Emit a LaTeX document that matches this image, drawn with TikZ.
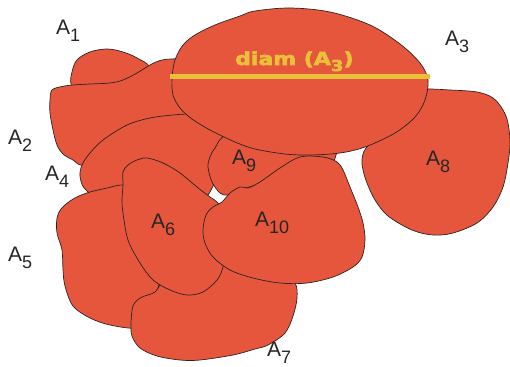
\documentclass[tikz,border=0pt]{standalone}
\usepackage{fontspec}
\setmainfont{Liberation Sans}
\newfontfamily\diamfont[BoldFeatures={FakeBold=3}]{DejaVu Sans}
\usepackage{graphicx}
\definecolor{blob}{RGB}{229,86,61}
\definecolor{diamy}{RGB}{234,192,58}
\definecolor{edgec}{RGB}{45,35,35}
\newcommand{\alab}[1]{\fontsize{21}{21}\selectfont A\raisebox{-7pt}{\fontsize{18}{18}\selectfont #1}}
\begin{document}
\begin{tikzpicture}[x=1pt,y=-1pt,
  blobst/.style={fill=blob,draw=edgec,line width=0.7pt},
  lab/.style={anchor=base west,inner sep=0pt,text=black!85}]
\useasboundingbox (0,0) rectangle (510,366);
% A1
\path[blobst] plot[smooth cycle,tension=0.6] coordinates {(71,84) (72,72) (77,60) (90,52) (107,49) (123,52) (137,58) (150,68) (148,90) (110,98) (78,96)};
% A2
\path[blobst] plot[smooth cycle,tension=0.55] coordinates {(52,90) (62,86.5) (73,85) (90,84) (110,83) (123,80) (137,73) (150,65) (160,60.5) (172,59) (195,60) (215,90) (200,112) (160,125) (110,150) (84,165) (73,160) (63,154) (57,145) (53,130) (50,113) (50,100)};
% A4
\path[blobst] plot[smooth cycle,tension=0.55] coordinates {(90,153) (103,140) (127,125) (150,118) (173,115) (190,114) (215,115) (232,130) (228,150) (218,175) (212,188) (205,198) (180,215) (130,205) (95,195) (84,188) (80,176) (82,165)};
% A5
\path[blobst] plot[smooth cycle,tension=0.55] coordinates {(90,192) (107,188) (123,185) (140,190) (160,260) (155,300) (145,318) (136,328) (110,325) (90,318) (73,306) (65,286) (63,270) (62,250) (57,233) (57,218) (61,209) (70,201) (79,196)};
% A9
\path[blobst] plot[smooth cycle,tension=0.55] coordinates {(228,135) (215,148) (210,157) (208,167) (212,182) (220,193) (228,195) (240,190) (270,180) (300,165) (330,162) (336,155) (335,140) (280,135)};
% A8
\path[blobst] plot[smooth cycle,tension=0.55] coordinates {(400,92) (423,89) (450,90) (477,92) (493,98) (503,110) (508,123) (510,143) (508,163) (503,187) (493,207) (477,223) (453,233) (433,235) (412,230) (388,216) (375,200) (367,183) (363,170) (362,160) (366,148) (385,128)};
% A3
\path[blobst] plot[smooth cycle,tension=0.55] coordinates {(172,78) (173,95) (180,108) (192,119) (210,130) (235,142) (255,149) (285,154) (310,155) (340,153) (365,147) (395,133) (415,117) (425,100) (428,80) (420,63) (400,44) (370,25) (330,12) (290,8) (255,11) (240,16) (215,25) (195,35) (183,45) (175,60)};
% A7
\path[blobst] plot[smooth cycle,tension=0.55] coordinates {(170,270) (220,258) (280,270) (295,283) (297,298) (293,316) (285,333) (268,345) (255,349) (233,355) (200,360) (180,360) (157,356) (140,348) (132,336) (131,323) (133,306) (140,298) (148,295) (155,292) (160,285)};
% A6
\path[blobst] plot[smooth cycle,tension=0.55] coordinates {(123,185) (123,172) (128,165) (137,160) (147,158) (163,163) (180,173) (197,187) (210,197) (218,203) (223,215) (225,250) (223,267) (217,280) (203,292) (187,295) (170,290) (153,280) (140,263) (128,240) (123,213) (122,200)};
% A10
\path[blobst] plot[smooth cycle,tension=0.55] coordinates {(230,193) (240,187) (247,188) (253,186) (263,180) (280,168) (300,157) (323,157) (337,162) (343,170) (350,187) (358,207) (363,223) (365,240) (362,257) (353,267) (333,277) (307,283) (280,283) (253,278) (230,270) (213,257) (205,243) (203,230) (206,215) (213,207) (222,202)};
% diameter
\coordinate (d1) at (170,76.5);
\coordinate (d2) at (430,76.5);
\draw[diamy,line width=4.5pt] (d1) -- (d2);
\node[anchor=base west,inner sep=0pt,text=diamy] (dtext) at (235,65) {\scalebox{1.22}[1]{\diamfont\bfseries\fontsize{18}{18}\selectfont diam (A\raisebox{-6pt}{\fontsize{15}{15}\selectfont 3})}};
% labels
\node[lab] (l1) at (56,35) {\alab{1}};
\node[lab] (l2) at (8,144) {\alab{2}};
\node[lab] (l3) at (445,46) {\alab{3}};
\node[lab] (l4) at (45,180) {\alab{4}};
\node[lab] (l5) at (8,261) {\alab{5}};
\node[lab] (l6) at (151,228) {\alab{6}};
\node[lab] (l7) at (267,356) {\alab{7}};
\node[lab] (l8) at (426,165) {\alab{8}};
\node[lab] (l9) at (232,164) {\alab{9}};
\node[lab] (l10) at (255,226) {\alab{10}};
\end{tikzpicture}
\end{document}
